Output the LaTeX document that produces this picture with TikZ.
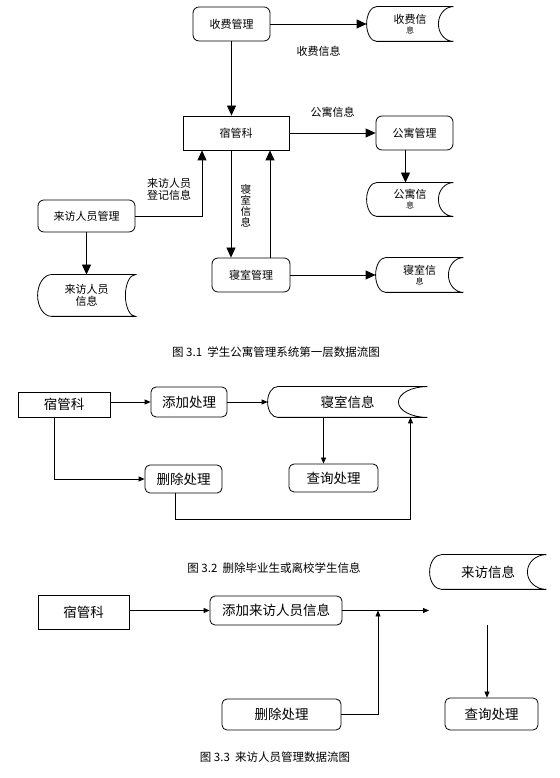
\documentclass[tikz,border=0pt]{standalone}
\usepackage{fontspec}
\setmainfont{Noto Sans CJK SC}
\usetikzlibrary{calc}
\usetikzlibrary{arrows.meta}

% data store outline: node, left bulge radius, right notch radius
\newcommand{\storeline}[3]{%
  \draw[line width=0.8pt] let \p1=(#1.north west), \p2=(#1.south east), \n1={(\y1-\y2)/2} in
    (\x1+#2,\y1) -- (\x2,\y1)
    arc[start angle=90,end angle=270,x radius=#3,y radius=\n1]
    -- (\x1+#2,\y2)
    arc[start angle=270,end angle=90,x radius=#2,y radius=\n1] -- cycle;
}

\begin{document}
\begin{tikzpicture}[x=1pt,y=1pt,line width=0.8pt,
    font=\fontsize{11}{12}\selectfont,
    rect/.style={draw,inner sep=0pt},
    proc/.style={draw,rounded corners=6pt,inner sep=0pt},
    store/.style={inner sep=0pt,align=center},
    txb/.style={font=\fontsize{13.5}{15}\selectfont},
    capt/.style={font=\fontsize{11.5}{13}\selectfont},
    arra/.style={-{Triangle[length=10pt,width=9pt]}},
    arrb/.style={-{Triangle[length=6pt,width=5pt]}}]
    \useasboundingbox (0,0) rectangle (559,778);

    % fig 3.1
    \node[proc,minimum width=77pt,minimum height=34pt] (P1) at (231.5,754) {收费管理};
    \node[store,minimum width=86pt,minimum height=34pt] (D1) at (410,754) {收费信\\[-2pt]{\fontsize{8}{8}\selectfont 息}};
    \node[rect,minimum width=106pt,minimum height=34pt] (K1) at (236,645) {宿管科};
    \node[proc,minimum width=77pt,minimum height=34pt] (P2) at (414.5,645) {公寓管理};
    \node[store,minimum width=86pt,minimum height=33pt] (D2) at (410,578.5) {公寓信\\[-2pt]{\fontsize{8}{8}\selectfont 息}};
    \node[proc,minimum width=78pt,minimum height=34pt] (P3) at (251,503) {寝室管理};
    \node[store,minimum width=87pt,minimum height=34pt] (D3) at (419.5,503) {寝室信\\[-2pt]{\fontsize{8}{8}\selectfont 息}};
    \node[proc,minimum width=97pt,minimum height=32pt] (P4) at (86.5,562) {来访人员管理};
    \node[store,minimum width=97pt,minimum height=41pt] (D4) at (86.5,482.5) {来访人员\\信息};
    \node[align=center] (L4) at (169,589) {来访人员\\登记信息};
    \storeline{D1}{10pt}{15pt}
    \storeline{D2}{10pt}{15pt}
    \storeline{D3}{10pt}{15pt}
    \storeline{D4}{14pt}{10pt}
    \draw (P1) edge[arra] node[below=18pt] (L1) {收费信息} (D1);
    \draw[arra] (P1.south) -- (P1.south |- K1.north);
    \draw (K1) edge[arra] node[above=12pt] (L2) {公寓信息} (P2);
    \draw[arra] ([xshift=-9pt]P2.south) -- ([xshift=-9pt]P2.south |- D2.north);
    \draw[arra] ([xshift=-5pt]K1.south) -- node[right=6pt,pos=0.52,align=center,font=\fontsize{10.5}{11}\selectfont] (L3) {寝\\室\\信\\息} ([xshift=-5pt]K1.south |- P3.north);
    \draw[arra] ([xshift=19pt]P3.north) -- ([xshift=19pt]P3.north |- K1.south);
    \draw (P3) edge[arra] (D3);
    \draw[arra] (P4.east) -| ([xshift=-34pt]K1.south);
    \draw (P4) edge[arra] (D4);
    \node[capt] (T1) at (276,426) {图 3.1\ \ 学生公寓管理系统第一层数据流图};

    % fig 3.2
    \node[rect,txb,minimum width=92pt,minimum height=25pt] (K2) at (64,373.5) {宿管科};
    \node[proc,txb,rounded corners=5pt,minimum width=76pt,minimum height=30pt] (Q1) at (189,376) {添加处理};
    \node[store,txb,minimum width=159pt,minimum height=30pt] (E1) at (347.5,376) {寝室信息};
    \node[proc,txb,rounded corners=5pt,minimum width=89pt,minimum height=28pt] (Q3) at (333.5,300) {查询处理};
    \node[proc,txb,rounded corners=5pt,minimum width=77pt,minimum height=28pt] (Q2) at (183.5,299) {删除处理};
    \storeline{E1}{10pt}{29pt}
    \draw[arrb] (K2.east |- Q1) -- (Q1);
    \draw (Q1) edge[arrb] (E1);
    \draw[arrb] ([xshift=-24pt]E1.south) -- ([xshift=-24pt]E1.south |- Q3.north);
    \draw[arrb] ([xshift=-10pt]K2.south) |- (Q2);
    \draw[arrb] ([xshift=-8pt]Q2.south) -- ++(0,-26) -| ([xshift=63pt]E1.south);
    \node[capt] (T2) at (274,210) {图 3.2\ \ 删除毕业生或离校学生信息};

    % fig 3.3
    \node[store,txb,minimum width=116pt,minimum height=34pt] (F1) at (488,206) {来访信息};
    \node[rect,txb,minimum width=91pt,minimum height=34pt] (K3) at (83.5,166) {宿管科};
    \node[proc,txb,rounded corners=5pt,minimum width=132pt,minimum height=29pt] (R1) at (276,167.5) {添加来访人员信息};
    \node[proc,txb,rounded corners=5pt,minimum width=119pt,minimum height=31pt] (R2) at (281.5,63.5) {删除处理};
    \node[proc,txb,rounded corners=5pt,minimum width=93pt,minimum height=32pt] (R3) at (491.5,64) {查询处理};
    \coordinate (e1) at (429,167.5);
    \coordinate (j1) at (378,167.5);
    \coordinate (s1) at (487,153);
    \storeline{F1}{12pt}{19pt}
    \draw[arrb] (K3.east |- R1) -- (R1);
    \draw[arrb] (R1) -- (e1);
    \draw[arrb] (R2) -| (j1);
    \draw[arrb] (s1) -- (s1 |- R3.north);
    \node[capt] (T3) at (275,21) {图 3.3\ \ 来访人员管理数据流图};
\end{tikzpicture}
\end{document}
